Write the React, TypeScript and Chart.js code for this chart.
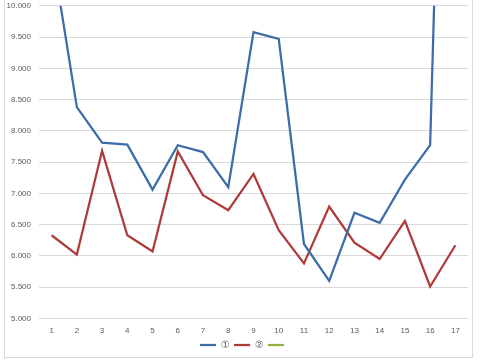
import React, { useEffect, useRef } from "react";
import { Chart, registerables } from "chart.js";

Chart.register(...registerables);

const categories = ["1", "2", "3", "4", "5", "6", "7", "8", "9", "10", "11", "12", "13", "14", "15", "16", "17"];
const series1 = [10900, 8380, 7810, 7780, 7060, 7770, 7660, 7100, 9580, 9470, 6190, 5600, 6690, 6530, 7220, 7770, 22000];
const series2 = [6330, 6020, 7680, 6330, 6070, 7670, 6970, 6730, 7310, 6410, 5880, 6790, 6210, 5950, 6560, 5510, 6170];
const series3: (number | null)[] = [];
const seriesNames = ["①", "②", ""];
const seriesColors = ["#3D6DA8", "#AE3B39", "#92B045"];

function fmt(v: number) {
  const s = (v / 1000).toFixed(3);
  return s;
}

const legendShift = {
  id: "legendShift",
  afterLayout(chart: any) {
    if (chart.legend) {
      chart.legend.left += 8;
      chart.legend.right += 8;
    }
  },
};

export default function App() {
  const ref = useRef<HTMLCanvasElement>(null);
  useEffect(() => {
    if (!ref.current) return;
    const chart = new Chart(ref.current, {
      type: "line",
      data: {
        labels: categories,
        datasets: [series1, series2, series3].map((d, i) => ({
          label: seriesNames[i],
          data: d,
          borderColor: seriesColors[i],
          backgroundColor: seriesColors[i],
          borderWidth: 2.25,
          pointRadius: 0,
          tension: 0,
          fill: false,
        })),
      },
      plugins: [legendShift],
      options: {
        animation: false,
        responsive: false,
        maintainAspectRatio: false,
        layout: { padding: { left: 5, right: 12, top: 0, bottom: 0 } },
        plugins: {
          tooltip: { enabled: false },
          legend: {
            position: "bottom",
            labels: {
              usePointStyle: true,
              pointStyle: "line",
              pointStyleWidth: 16,
              boxWidth: 16,
              padding: 4,
              color: "#595959",
              font: { family: "DejaVu Sans", size: 10 },
            },
          },
        },
        scales: {
          x: {
            offset: true,
            grid: { display: false },
            border: { display: false },
            ticks: { color: "#595959", font: { family: "Liberation Sans", size: 8 }, padding: 0, maxRotation: 0 },
          },
          y: {
            min: 5000,
            max: 10000,
            afterFit: (s: any) => { s.width = 34; },
            grid: { color: "#D9D9D9", drawTicks: false, lineWidth: 1 },
            border: { display: false },
            ticks: {
              stepSize: 500,
              color: "#595959",
              font: { family: "Liberation Sans", size: 8 },
              padding: 8,
              callback: (v: any) => fmt(Number(v)),
            },
          },
        },
      },
    });
    return () => chart.destroy();
  }, []);
  return (
    <div style={{ position: "fixed", left: 0, top: 0, width: 480, height: 360, background: "#fff", overflow: "hidden" }}>
      <div style={{ position: "absolute", left: 4, top: -10, width: 467, height: 366, border: "1px solid #D9D9D9" }} />
      <canvas ref={ref} width={480} height={367} style={{ position: "absolute", left: 0, top: -7 }} />
    </div>
  );
}
